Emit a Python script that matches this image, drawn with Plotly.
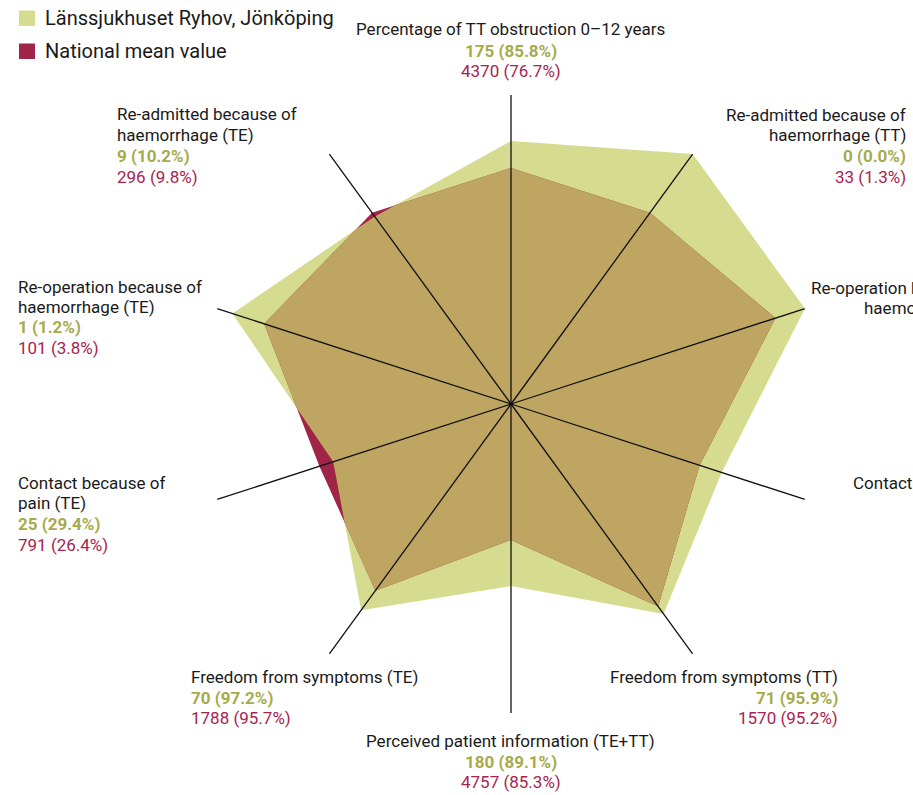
import math
import plotly.graph_objects as go

# ---------------- data ----------------
categories = [
    "Percentage of TT obstruction 0–12 years",
    "Re-admitted because of haemorrhage (TT)",
    "Re-operation because of haemorrhage (TT)",
    "Contact because of pain (TT)",
    "Freedom from symptoms (TT)",
    "Perceived patient information (TE+TT)",
    "Freedom from symptoms (TE)",
    "Contact because of pain (TE)",
    "Re-operation because of haemorrhage (TE)",
    "Re-admitted because of haemorrhage (TE)",
]
# radial (scaled) values, 0..1
hospital_values = [0.851, 1.0, 1.0, 0.717, 0.84, 0.589, 0.825, 0.605, 0.948, 0.75]
national_values = [0.764, 0.765, 0.90, 0.642, 0.81, 0.44, 0.747, 0.652, 0.84, 0.765]

hospital_labels = ["175 (85.8%)", "0 (0.0%)", "", "", "71 (95.9%)", "180 (89.1%)",
                   "70 (97.2%)", "25 (29.4%)", "1 (1.2%)", "9 (10.2%)"]
national_labels = ["4370 (76.7%)", "33 (1.3%)", "", "", "1570 (95.2%)", "4757 (85.3%)",
                   "1788 (95.7%)", "791 (26.4%)", "101 (3.8%)", "296 (9.8%)"]

series_names = ["Länssjukhuset Ryhov, Jönköping", "National mean value"]

# ---------------- styles ----------------
W, H = 913, 795
CX, CY, R = 511, 404, 309
GREEN_FILL = "#d5dc8f"
RED_FILL = "#9f2447"
TAN_FILL = "#bea561"
GREEN_TXT = "#a6ab4c"
RED_TXT = "#a8234f"
TXT = "#1a1a1a"
FONT = "Roboto"
LBL = 17

n = len(categories)
angles = [i * 360.0 / n for i in range(n)]


def to_xy(r, a):
    t = math.radians(a)
    return r * math.sin(t), r * math.cos(t)


def to_polar(x, y):
    r = math.hypot(x, y)
    a = math.degrees(math.atan2(x, y)) % 360
    return r, a


# min (overlap) outline, including crossing points between axes
ov_r, ov_t = [], []
for i in range(n):
    j = (i + 1) % n
    g0, g1 = hospital_values[i], hospital_values[j]
    n0, n1 = national_values[i], national_values[j]
    ov_r.append(min(g0, n0))
    ov_t.append(angles[i])
    if (g0 - n0) * (g1 - n1) < 0:
        G0 = to_xy(g0, angles[i]); G1 = to_xy(g1, angles[j])
        N0 = to_xy(n0, angles[i]); N1 = to_xy(n1, angles[j])
        dx1, dy1 = G1[0] - G0[0], G1[1] - G0[1]
        dx2, dy2 = N1[0] - N0[0], N1[1] - N0[1]
        den = dx1 * dy2 - dy1 * dx2
        s = ((N0[0] - G0[0]) * dy2 - (N0[1] - G0[1]) * dx2) / den
        px, py = G0[0] + s * dx1, G0[1] + s * dy1
        rr, aa = to_polar(px, py)
        ov_r.append(rr)
        ov_t.append(aa)

fig = go.Figure()
fig.add_trace(go.Scatterpolar(r=hospital_values + hospital_values[:1], theta=angles + angles[:1],
                              mode="lines", fill="toself", fillcolor=GREEN_FILL,
                              line=dict(width=0, color=GREEN_FILL), name=series_names[0],
                              showlegend=False, hoverinfo="skip"))
fig.add_trace(go.Scatterpolar(r=national_values + national_values[:1], theta=angles + angles[:1],
                              mode="lines", fill="toself", fillcolor=RED_FILL,
                              line=dict(width=0, color=RED_FILL), name=series_names[1],
                              showlegend=False, hoverinfo="skip"))
fig.add_trace(go.Scatterpolar(r=ov_r + ov_r[:1], theta=ov_t + ov_t[:1],
                              mode="lines", fill="toself", fillcolor=TAN_FILL,
                              line=dict(width=0, color=TAN_FILL),
                              showlegend=False, hoverinfo="skip"))
for a in angles:
    fig.add_trace(go.Scatterpolar(r=[0, 1], theta=[a, a], mode="lines",
                                  line=dict(color="#111111", width=1.3),
                                  showlegend=False, hoverinfo="skip"))

fig.update_layout(
    width=W, height=H,
    margin=dict(l=0, r=0, t=0, b=0),
    paper_bgcolor="white", plot_bgcolor="white",
    polar=dict(
        domain=dict(x=[(CX - R) / W, (CX + R) / W], y=[(H - CY - R) / H, (H - CY + R) / H]),
        bgcolor="rgba(0,0,0,0)",
        radialaxis=dict(range=[0, 1], visible=False, showgrid=False),
        angularaxis=dict(direction="clockwise", rotation=90, showgrid=False,
                         showticklabels=False, showline=False, ticks=""),
    ),
    font=dict(family=FONT, color=TXT),
)


def txt(x, y, s, anchor, color=TXT, bold=False, size=LBL):
    if bold:
        s = "<b>" + s + "</b>"
    fig.add_annotation(x=x / W, y=1 - y / H, xref="paper", yref="paper", text=s,
                       showarrow=False, xanchor=anchor, yanchor="middle", borderpad=0,
                       font=dict(family=FONT, size=size, color=color))


def block(i, x, ys, anchor, title_lines):
    k = 0
    for line in title_lines:
        txt(x, ys[k], line, anchor)
        k += 1
    if hospital_labels[i]:
        txt(x, ys[k], hospital_labels[i], anchor, GREEN_TXT, bold=True)
        txt(x, ys[k + 1], national_labels[i], anchor, RED_TXT)


block(0, 511, [29.5, 51, 71], "center", [categories[0]])
block(1, 907, [115, 135, 156, 177], "right", ["Re-admitted because of", "haemorrhage (TT)"])
txt(810, 288, "Re-operation because of", "left")
txt(863, 308, "haemorrhage (TT)", "left")
txt(852, 483, "Contact because of", "left")
txt(935, 503, "pain (TT)", "left")
block(4, 839, [677, 698, 718], "right", [categories[4]])
block(5, 511, [741, 762, 782], "center", [categories[5]])
block(6, 190, [677, 698, 718], "left", [categories[6]])
block(7, 17, [483, 503, 524, 545], "left", ["Contact because of", "pain (TE)"])
block(8, 17, [287, 307, 327, 348], "left", ["Re-operation because of", "haemorrhage (TE)"])
block(9, 116, [114, 135, 156, 177], "left", ["Re-admitted because of", "haemorrhage (TE)"])

# legend
for k, col in enumerate([GREEN_FILL, RED_FILL]):
    y0 = 10.5 + k * 33
    fig.add_shape(type="rect", xref="paper", yref="paper",
                  x0=19 / W, x1=35 / W, y0=1 - y0 / H, y1=1 - (y0 + 15.5) / H,
                  fillcolor=col, line=dict(width=0))
    txt(44, y0 + 8, series_names[k], "left", size=20)

fig.write_html("out.html", config={"displayModeBar": False},
               post_script="document.body.style.margin='0';document.body.style.overflow='hidden';")
